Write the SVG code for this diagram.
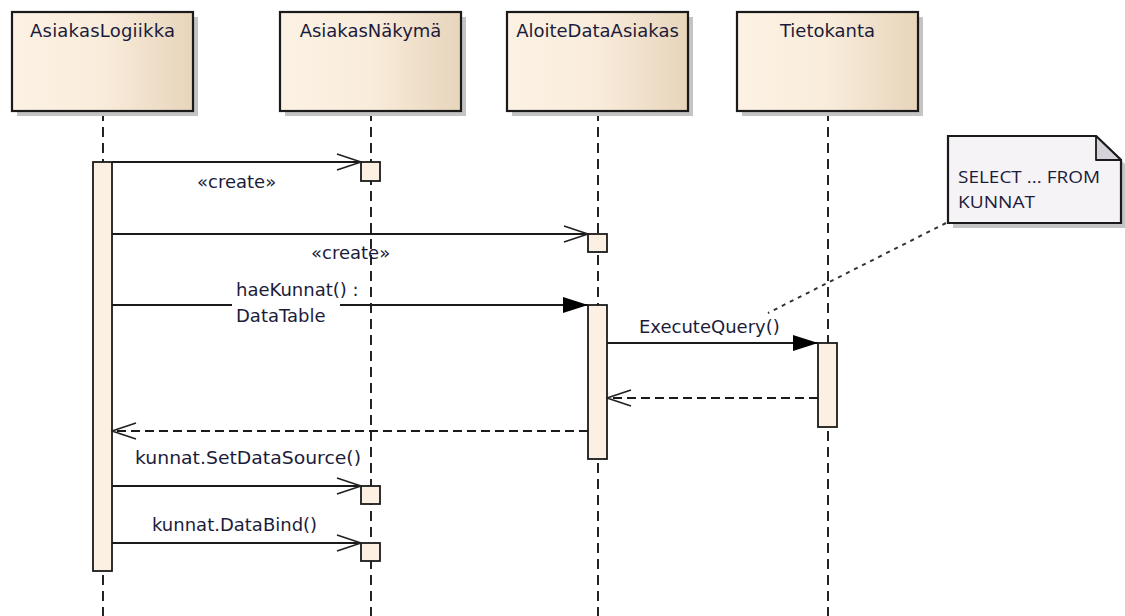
<svg xmlns="http://www.w3.org/2000/svg" width="1125" height="616" viewBox="0 0 1125 616">
  <defs>
    <linearGradient id="headFill" x1="0" y1="0" x2="1" y2="0">
      <stop offset="0" stop-color="#fcf2e4"/>
      <stop offset="0.5" stop-color="#f9ecdb"/>
      <stop offset="1" stop-color="#e7d5bb"/>
    </linearGradient>
    <marker id="open" viewBox="0 0 26 18" refX="25" refY="9" markerWidth="26" markerHeight="18" markerUnits="userSpaceOnUse" orient="auto">
      <path d="M1,1 L25,9 L1,17" fill="none" stroke="#222" stroke-width="1.8"/>
    </marker>
    <marker id="filled" viewBox="0 0 26 18" refX="25" refY="9" markerWidth="26" markerHeight="18" markerUnits="userSpaceOnUse" orient="auto">
      <path d="M0,1 L25,9 L0,17 Z" fill="#000"/>
    </marker>
  </defs>
  <style>
    .head { fill: url(#headFill); stroke: #1a1a1a; stroke-width: 2.2; }
    .shadow { fill: #c4c4c4; }
    .life { stroke: #1a1a1a; stroke-width: 1.9; stroke-dasharray: 10 6; fill: none; }
    .act { fill: #fbf0e2; stroke: #1a1a1a; stroke-width: 1.8; }
    .msg { stroke: #1a1a1a; stroke-width: 1.8; fill: none; }
    .ret { stroke: #1a1a1a; stroke-width: 1.8; fill: none; stroke-dasharray: 9 5; }
    .lbl { font-family: "DejaVu Sans", Verdana, sans-serif; font-size: 18px; fill: #1c1c3a; }
    .title { font-family: "DejaVu Sans", Verdana, sans-serif; font-size: 18px; fill: #1c1c3a; text-anchor: middle; }
    .note { fill: #f6f3f7; stroke: #1a1a1a; stroke-width: 2.2; }
    .noteText { font-family: "Open Sans", "Noto Sans", sans-serif; font-size: 17px; fill: #1c1c3a; }
  </style>

  <rect width="1125" height="616" fill="#ffffff"/>

  <!-- lifelines -->
  <g id="lifelines">
    <line class="life" x1="103" y1="111" x2="103" y2="616"/>
    <line class="life" x1="371" y1="111" x2="371" y2="616"/>
    <line class="life" x1="598" y1="111" x2="598" y2="616"/>
    <line class="life" x1="828" y1="111" x2="828" y2="616"/>
  </g>

  <!-- participants -->
  <g id="AsiakasLogiikka">
    <rect class="shadow" x="17" y="17" width="181" height="99"/>
    <rect class="head" x="12" y="12" width="181" height="99"/>
    <text class="title" x="102.5" y="37" textLength="145" lengthAdjust="spacing">AsiakasLogiikka</text>
    <rect class="act" x="93" y="162" width="19" height="409"/>
  </g>
  <g id="AsiakasNakyma">
    <rect class="shadow" x="285" y="17" width="181" height="99"/>
    <rect class="head" x="280" y="12" width="181" height="99"/>
    <text class="title" x="370.5" y="37">AsiakasNäkymä</text>
    <rect class="act" x="361" y="162" width="19" height="19"/>
    <rect class="act" x="361" y="486" width="19" height="18"/>
    <rect class="act" x="361" y="543" width="19" height="18"/>
  </g>
  <g id="AloiteDataAsiakas">
    <rect class="shadow" x="512" y="17" width="181" height="99"/>
    <rect class="head" x="507" y="12" width="181" height="99"/>
    <text class="title" x="597.5" y="37">AloiteDataAsiakas</text>
    <rect class="act" x="588" y="234" width="19" height="18"/>
    <rect class="act" x="588" y="305" width="19" height="154"/>
  </g>
  <g id="Tietokanta">
    <rect class="shadow" x="742" y="17" width="181" height="99"/>
    <rect class="head" x="737" y="12" width="181" height="99"/>
    <text class="title" x="827.5" y="37">Tietokanta</text>
    <rect class="act" x="818" y="343" width="19" height="84"/>
  </g>

  <!-- note -->
  <g id="note">
    <path class="shadow" d="M953,141 L1101,141 L1126,165 L1126,228 L953,228 Z"/>
    <path class="note" d="M948,136 L1096,136 L1121,160 L1121,223 L948,223 Z"/>
    <path d="M1096,136 L1096,160 L1121,160 Z" fill="#d6d2da" stroke="#1a1a1a" stroke-width="1.8" stroke-linejoin="round"/>
    <text class="noteText" x="958" y="183" textLength="142" lengthAdjust="spacingAndGlyphs">SELECT ... FROM</text>
    <text class="noteText" x="958" y="208" textLength="77" lengthAdjust="spacingAndGlyphs">KUNNAT</text>
  </g>

  <!-- messages -->
  <g id="connectors">
    <line class="msg" x1="112" y1="162" x2="361" y2="162" marker-end="url(#open)"/>
    <line class="msg" x1="112" y1="234" x2="588" y2="234" marker-end="url(#open)"/>
    <line class="msg" x1="112" y1="305" x2="232" y2="305"/>
    <line class="msg" x1="340" y1="305" x2="588" y2="305" marker-end="url(#filled)"/>
    <line class="msg" x1="607" y1="343" x2="818" y2="343" marker-end="url(#filled)"/>
    <line class="ret" x1="818" y1="398" x2="607" y2="398" marker-end="url(#open)"/>
    <line class="ret" x1="588" y1="431" x2="112" y2="431" marker-end="url(#open)"/>
    <line class="msg" x1="112" y1="486" x2="361" y2="486" marker-end="url(#open)"/>
    <line class="msg" x1="112" y1="543" x2="361" y2="543" marker-end="url(#open)"/>
    <!-- note anchor -->
    <line x1="946" y1="223" x2="768" y2="313" stroke="#333" stroke-width="2" stroke-dasharray="4 5"/>
  </g>

  <!-- message labels -->
  <g id="labels">
    <text class="lbl" x="197" y="188">«create»</text>
    <text class="lbl" x="311" y="259">«create»</text>
    <text class="lbl" x="236" y="296">haeKunnat() :</text>
    <text class="lbl" x="236" y="322">DataTable</text>
    <text class="lbl" x="639" y="333">ExecuteQuery()</text>
    <text class="lbl" x="135" y="464" textLength="226" lengthAdjust="spacingAndGlyphs">kunnat.SetDataSource()</text>
    <text class="lbl" x="152" y="531">kunnat.DataBind()</text>
  </g>
</svg>
